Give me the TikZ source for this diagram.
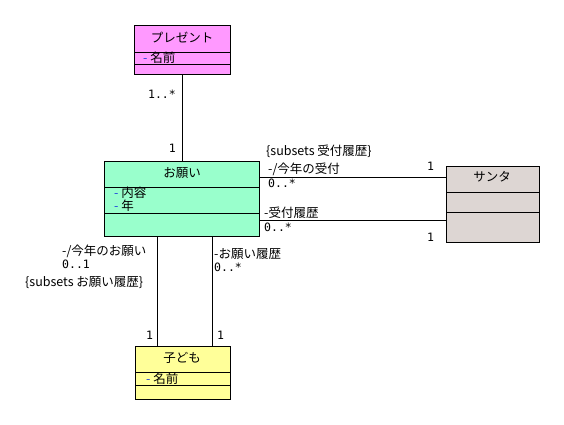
\documentclass[tikz,border=0pt]{standalone}
\usepackage{fontspec}
\setmainfont{Noto Sans CJK JP}
\newfontfamily\multfont{DejaVu Sans Mono}
\definecolor{pinkc}{HTML}{FF99FF}
\definecolor{greenc}{HTML}{99FFCC}
\definecolor{grayc}{HTML}{DDD6D3}
\definecolor{yellowc}{HTML}{FFFF99}
\definecolor{vis}{HTML}{2244DD}
\begin{document}
\begin{tikzpicture}[x=1pt,y=-1pt,
  cls/.style={draw=black, line width=0.8pt, inner sep=0pt, anchor=north west},
  lab/.style={inner sep=0pt, anchor=west, font=\fontsize{12.5}{14}\selectfont},
  mult/.style={inner sep=0pt, anchor=west, font=\multfont\fontsize{11.5}{13}\selectfont},
  ctr/.style={inner sep=0pt, anchor=center, font=\fontsize{12.5}{14}\selectfont},
  conn/.style={draw=black, line width=0.8pt},
  div/.style={draw=black, line width=0.8pt}]
\useasboundingbox[fill=white] (0,0) rectangle (564,424);

% classes
\node[cls, fill=pinkc, minimum width=96pt, minimum height=49pt] (present) at (134,25) {};
\node[cls, fill=greenc, minimum width=155pt, minimum height=75pt] (onegai) at (104,161) {};
\node[cls, fill=grayc, minimum width=93pt, minimum height=76pt] (santa) at (446,166) {};
\node[cls, fill=yellowc, minimum width=95pt, minimum height=53pt] (kodomo) at (135,346) {};

% compartments
\foreach \b/\d in {present/27, present/39, onegai/26, onegai/52, santa/26, santa/46, kodomo/26, kodomo/39}
  \draw[div] ([yshift=-\d pt]\b.north west) -- ([yshift=-\d pt]\b.north east);

% class texts
\node[ctr] (presentname) at (182,37) {プレゼント};
\node[lab] (presentattr) at (143,58) {\textcolor{vis}{-} 名前};
\node[ctr] (onegainame) at (182,173) {お願い};
\node[lab] (onegaiattr1) at (114,193) {\textcolor{vis}{-} 内容};
\node[lab] (onegaiattr2) at (114,206) {\textcolor{vis}{-} 年};
\node[ctr] (santaname) at (492,177) {サンタ};
\node[ctr] (kodomoname) at (182,358) {子ども};
\node[lab] (kodomoattr) at (146,379) {\textcolor{vis}{-} 名前};

% connectors
\draw[conn] (present.south) -- (present.south |- onegai.north);
\coordinate (a1) at ([yshift=-16pt]onegai.north east);
\draw[conn] (a1) -- (a1 -| santa.west);
\coordinate (a2) at ([yshift=-59pt]onegai.north east);
\draw[conn] (a2) -- (a2 -| santa.west);
\coordinate (b1) at ([xshift=53pt]onegai.south west);
\draw[conn] (b1) -- (b1 |- kodomo.north);
\coordinate (b2) at ([xshift=108pt]onegai.south west);
\draw[conn] (b2) -- (b2 |- kodomo.north);

% association labels
\node[mult, anchor=east] (m1) at (176,94) {1..*};
\node[mult, anchor=east] (m2) at (176,148) {1};
\node[lab] (c1) at (266,151) {\{subsets 受付履歴\}};
\node[lab] (r1) at (268,169) {-/今年の受付};
\node[mult] (m3) at (268,183) {0..*};
\node[mult] (m4) at (427,166) {1};
\node[lab] (r2) at (264,213) {-受付履歴};
\node[mult] (m5) at (264,227) {0..*};
\node[mult] (m6) at (427,237) {1};
\node[lab] (r3) at (62,251) {-/今年のお願い};
\node[mult] (m7) at (62,264) {0..1};
\node[lab] (c2) at (25,283) {\{subsets お願い履歴\}};
\node[lab] (r4) at (214,254) {-お願い履歴};
\node[mult] (m8) at (214,267) {0..*};
\node[mult] (m9) at (146,335) {1};
\node[mult] (m10) at (217,335) {1};
\end{tikzpicture}
\end{document}
